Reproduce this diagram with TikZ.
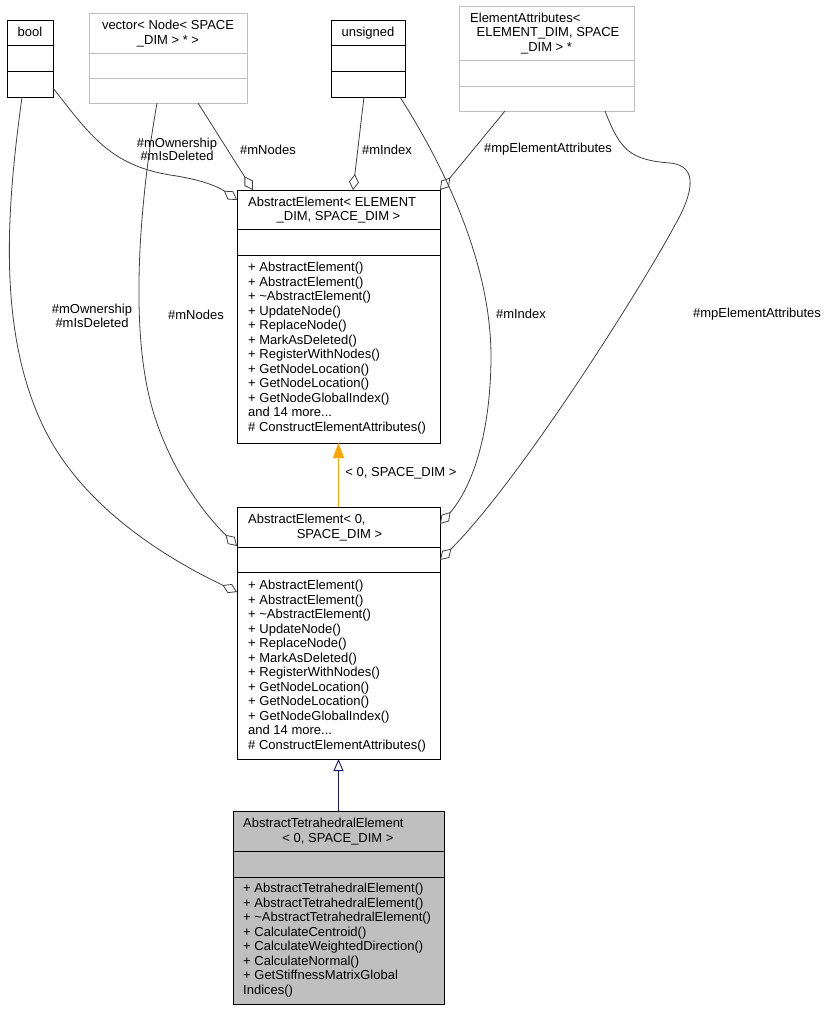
\documentclass[tikz,border=0pt]{standalone}
\usepackage{fontspec}
\setmainfont{Liberation Sans}
\usetikzlibrary{arrows.meta,calc}
\definecolor{edgegray}{HTML}{404040}
\definecolor{boxfill}{HTML}{BFBFBF}
\definecolor{lightborder}{HTML}{BFBFBF}
\definecolor{inhnavy}{HTML}{191970}
\definecolor{tmplorange}{HTML}{FFA500}
\newcommand\moredots{...}
\begin{document}
\begin{tikzpicture}[x=1pt,y=-1pt,
  cls/.style={draw=black, line width=0.9pt, inner sep=0pt, outer sep=0pt, anchor=north west},
  ghost/.style={cls, draw=lightborder},
  sep/.style={draw=black, line width=0.9pt},
  gsep/.style={draw=lightborder, line width=0.9pt},
  txt/.style={inner sep=0pt, font=\fontsize{13}{14.5}\selectfont},
  lbl/.style={inner sep=0pt, align=center, font=\fontsize{13}{13.5}\selectfont},
  assoc/.style={draw=edgegray, line width=0.8pt, -{Diamond[open, length=16pt, width=10pt, line width=0.8pt]}},
  tmpl/.style={draw=tmplorange, line width=0.9pt, -{Triangle[length=15pt, width=11pt]}},
  inh/.style={draw=inhnavy, line width=0.9pt, -{Triangle[open, length=12pt, width=10pt, line width=0.9pt]}}
]
\useasboundingbox[fill=white] (0,0) rectangle (828,1011);

% ---- bool
\node[cls, minimum width=46, minimum height=77] (bool) at (7,20) {};
\draw[sep] ($(bool.north west)+(0,25)$) -- ($(bool.north east)+(0,25)$);
\draw[sep] ($(bool.north west)+(0,51)$) -- ($(bool.north east)+(0,51)$);
\node[txt, anchor=base] (boolt) at (30,36.5) {bool};

% ---- vector
\node[ghost, minimum width=158, minimum height=90] (vec) at (89,13) {};
\draw[gsep] ($(vec.north west)+(0,40)$) -- ($(vec.north east)+(0,40)$);
\draw[gsep] ($(vec.north west)+(0,65)$) -- ($(vec.north east)+(0,65)$);
\node[txt, anchor=base] (vect1) at (168,29.5) {vector< Node< SPACE};
\node[txt, anchor=base] (vect2) at (168,44.5) {\_DIM > * >};

% ---- unsigned
\node[cls, minimum width=74, minimum height=77] (uns) at (331,20) {};
\draw[sep] ($(uns.north west)+(0,25)$) -- ($(uns.north east)+(0,25)$);
\draw[sep] ($(uns.north west)+(0,51)$) -- ($(uns.north east)+(0,51)$);
\node[txt, anchor=base] (unst) at (368,36.5) {unsigned};

% ---- ElementAttributes
\node[ghost, minimum width=175, minimum height=105] (ea) at (459,6) {};
\draw[gsep] ($(ea.north west)+(0,54)$) -- ($(ea.north east)+(0,54)$);
\draw[gsep] ($(ea.north west)+(0,80)$) -- ($(ea.north east)+(0,80)$);
\node[txt, anchor=base west] (eat1) at (470,22.8) {ElementAttributes<};
\node[txt, anchor=base] (eat2) at (548,36.8) {ELEMENT\_DIM, SPACE};
\node[txt, anchor=base] (eat3) at (546.5,51.2) {\_DIM > *};

% ---- AbstractElement< ELEMENT_DIM, SPACE_DIM >
\node[cls, minimum width=203, minimum height=253] (ae) at (237,190) {};
\draw[sep] ($(ae.north west)+(0,39)$) -- ($(ae.north east)+(0,39)$);
\draw[sep] ($(ae.north west)+(0,65)$) -- ($(ae.north east)+(0,65)$);
\node[txt, anchor=base west] (aet1) at (248,206.2) {AbstractElement< ELEMENT};
\node[txt, anchor=base] (aet2) at (338.5,220.5) {\_DIM, SPACE\_DIM >};
\foreach \t [count=\i] in {{+ AbstractElement()}, {+ AbstractElement()}, {+ \textasciitilde AbstractElement()}, {+ UpdateNode()}, {+ ReplaceNode()}, {+ MarkAsDeleted()}, {+ RegisterWithNodes()}, {+ GetNodeLocation()}, {+ GetNodeLocation()}, {+ GetNodeGlobalIndex()}, {and 14 more\moredots}, {\# ConstructElementAttributes()}}
  \node[txt, anchor=base west] (aem\i) at (248,{257.3+14.5*\i}) {\t};

% ---- AbstractElement< 0, SPACE_DIM >
\node[cls, minimum width=203, minimum height=252] (ae0) at (237,507) {};
\draw[sep] ($(ae0.north west)+(0,40)$) -- ($(ae0.north east)+(0,40)$);
\draw[sep] ($(ae0.north west)+(0,65)$) -- ($(ae0.north east)+(0,65)$);
\node[txt, anchor=base west] (ae0t1) at (248,523.5) {AbstractElement< 0,};
\node[txt, anchor=base] (ae0t2) at (339.5,538) {SPACE\_DIM >};
\foreach \t [count=\i] in {{+ AbstractElement()}, {+ AbstractElement()}, {+ \textasciitilde AbstractElement()}, {+ UpdateNode()}, {+ ReplaceNode()}, {+ MarkAsDeleted()}, {+ RegisterWithNodes()}, {+ GetNodeLocation()}, {+ GetNodeLocation()}, {+ GetNodeGlobalIndex()}, {and 14 more\moredots}, {\# ConstructElementAttributes()}}
  \node[txt, anchor=base west] (ae0m\i) at (248,{575+14.5*\i}) {\t};

% ---- AbstractTetrahedralElement< 0, SPACE_DIM >
\node[cls, fill=boxfill, minimum width=211, minimum height=193] (tet) at (233,811) {};
\draw[sep] ($(tet.north west)+(0,40)$) -- ($(tet.north east)+(0,40)$);
\draw[sep] ($(tet.north west)+(0,66)$) -- ($(tet.north east)+(0,66)$);
\node[txt, anchor=base west] (tett1) at (243,827.2) {AbstractTetrahedralElement};
\node[txt, anchor=base] (tett2) at (338,842.8) {< 0, SPACE\_DIM >};
\foreach \t [count=\i] in {{+ AbstractTetrahedralElement()}, {+ AbstractTetrahedralElement()}, {+ \textasciitilde AbstractTetrahedralElement()}, {+ CalculateCentroid()}, {+ CalculateWeightedDirection()}, {+ CalculateNormal()}, {+ GetStiffnessMatrixGlobal}, {Indices()}}
  \node[txt, anchor=base west] (tetm\i) at (243,{878.3+14.5*\i}) {\t};

% ---- connectors to AbstractElement< ELEMENT_DIM, SPACE_DIM >
\draw[assoc] ([yshift=9pt]bool.south east) .. controls (90,135) and (110,165) .. (170,175)
   .. controls (205,180) and (220,188) .. ([yshift=-10pt]ae.north west);
\draw[assoc] ([xshift=30pt]vec.south) -- ([xshift=16pt]ae.north west);
\draw[assoc] ([xshift=-4pt]uns.south) -- ([xshift=14.5pt]ae.north);
\draw[assoc] ([xshift=-41.5pt]ea.south) -- (ae.north east);

% ---- connectors to AbstractElement< 0, SPACE_DIM >
\draw[assoc] ([xshift=15pt]bool.south west) .. controls (8,200) and (-5,330) .. (45,430)
   .. controls (85,510) and (170,560) .. ([yshift=-85pt]ae0.north west);
\draw[assoc] ([xshift=-11pt]vec.south) .. controls (140,200) and (130,320) .. (150,400)
   .. controls (165,460) and (200,510) .. ([yshift=-39pt]ae0.north west);
\draw[assoc] ([xshift=-5pt]uns.south east) .. controls (440,160) and (492,260) .. (491,360)
   .. controls (490,440) and (470,490) .. ([yshift=-17pt]ae0.north east);
\draw[assoc] ([xshift=-29pt]ea.south east) .. controls (620,150) and (630,160) .. (670,163)
   .. controls (700,166) and (692,195) .. (675,225)
   .. controls (640,290) and (520,480) .. ([yshift=-53pt]ae0.north east);

% ---- template instance and inheritance
\draw[tmpl] (ae0.north) -- (ae.south);
\draw[inh] (tet.north) -- (ae0.south);

% ---- labels
\node[lbl] (lab1) at (177,149.5) {\#mOwnership\\\#mIsDeleted};
\node[lbl] (lab2) at (268,149.5) {\#mNodes};
\node[lbl] (lab3) at (387,149.5) {\#mIndex};
\node[lbl] (lab4) at (548,149) {\#mpElementAttributes};
\node[lbl] (lab5) at (92,316) {\#mOwnership\\\#mIsDeleted};
\node[lbl] (lab6) at (196,315) {\#mNodes};
\node[lbl] (lab7) at (521,314) {\#mIndex};
\node[lbl] (lab8) at (757,314) {\#mpElementAttributes};
\node[lbl] (lab9) at (401,473) {< 0, SPACE\_DIM >};
\end{tikzpicture}
\end{document}
